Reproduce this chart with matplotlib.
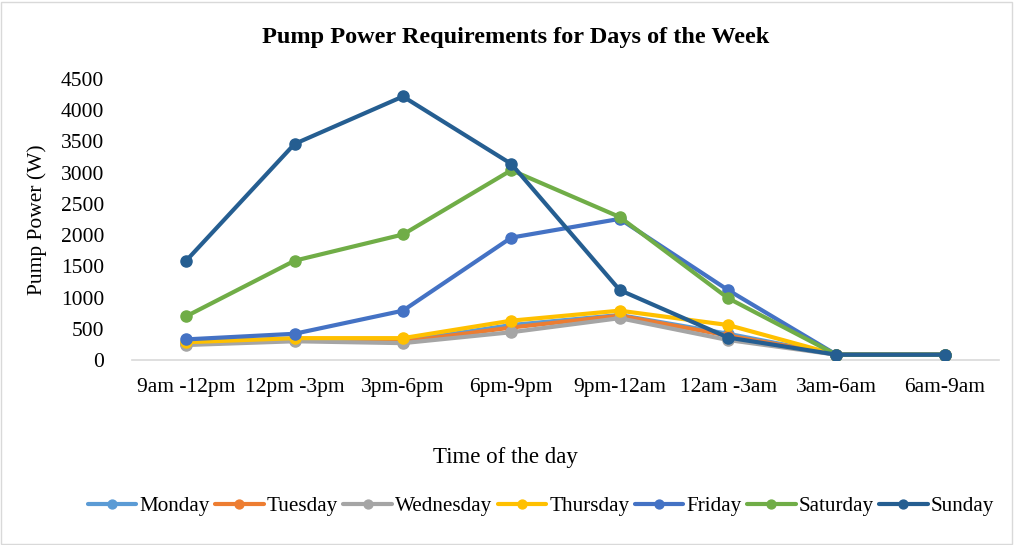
import matplotlib
matplotlib.use("Agg")
import matplotlib.pyplot as plt
from matplotlib.patches import Rectangle

plt.rcParams['font.family'] = ['Liberation Serif', 'DejaVu Serif']

categories = ["9am -12pm", "12pm -3pm", "3pm-6pm", "6pm-9pm", "9pm-12am", "12am -3am", "3am-6am", "6am-9am"]
monday = [270, 330, 300, 560, 720, 420, 85, 85]
tuesday = [250, 320, 290, 520, 710, 390, 85, 85]
wednesday = [240, 300, 270, 445, 670, 320, 85, 85]
thursday = [285, 350, 350, 630, 790, 560, 85, 85]
friday = [330, 420, 790, 1960, 2260, 1120, 85, 85]
saturday = [700, 1590, 2010, 3040, 2290, 990, 85, 85]
sunday = [1590, 3460, 4220, 3140, 1120, 360, 85, 85]

series = [
    ("Monday", monday, "#5B9BD5"),
    ("Tuesday", tuesday, "#ED7D31"),
    ("Wednesday", wednesday, "#A5A5A5"),
    ("Thursday", thursday, "#FFC000"),
    ("Friday", friday, "#4472C4"),
    ("Saturday", saturday, "#70AD47"),
    ("Sunday", sunday, "#255E91"),
]

fig = plt.figure(figsize=(10.14, 5.45), dpi=100)
ax = fig.add_axes([132/1014, 1-360/545, (999-132)/1014, (360-79)/545])

x = list(range(len(categories)))
for name, vals, col in series:
    ax.plot(x, vals, color=col, lw=3, marker='o', markersize=8, label=name, solid_capstyle='round')

ax.set_xlim(-0.5, len(categories)-0.5)
ax.set_ylim(0, 4500)
ax.set_yticks(range(0, 4501, 500))
ax.set_xticks(x)
ax.set_xticklabels(categories)
for s in ['left', 'right', 'top']:
    ax.spines[s].set_visible(False)
ax.spines['bottom'].set_color('#D9D9D9')
ax.spines['bottom'].set_linewidth(1.2)
ax.spines['bottom'].set_zorder(0)
ax.tick_params(axis='both', length=0, labelsize=15.5, colors='black')
ax.tick_params(axis='x', pad=13)
ax.tick_params(axis='y', pad=20)

ax.set_ylabel("Pump Power (W)", fontsize=15.5, labelpad=10)
fig.text(505/1014, 1-458/545, "Time of the day", ha='center', va='center', fontsize=16.5)
fig.text(516/1014, 1-38/545, "Pump Power Requirements for Days of the Week", ha='center', va='center',
         fontsize=17.5, fontweight='bold')

leg = fig.legend(loc='center', bbox_to_anchor=(541/1014, 1-506/545), ncol=7, frameon=False,
                 fontsize=15.2, handlelength=2.3, columnspacing=0.25, handletextpad=0.15,
                 markerscale=0.8, borderpad=0.1, borderaxespad=0.1)

fig.patches.append(Rectangle((0.001, 0.002), 0.997, 0.995, transform=fig.transFigure,
                             fill=False, edgecolor='#D9D9D9', lw=1))

fig.savefig("out.png", dpi=100)
